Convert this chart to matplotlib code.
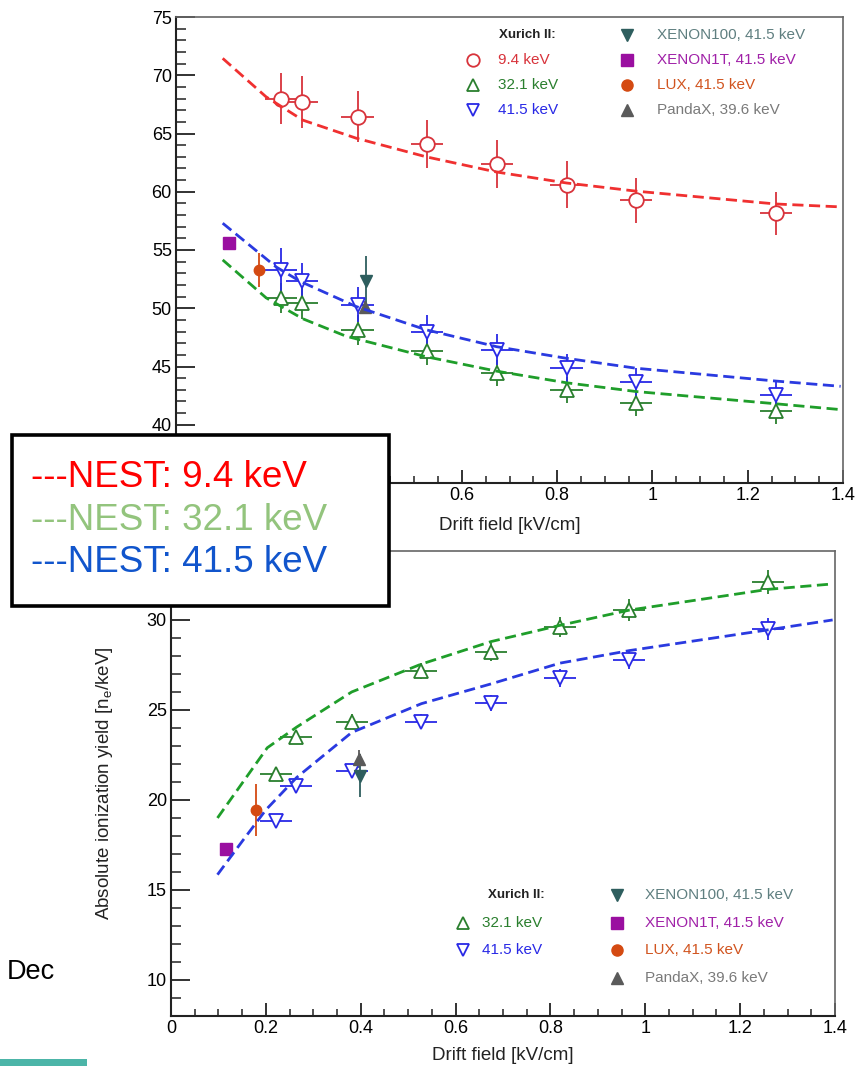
import numpy as np
import matplotlib
matplotlib.use('Agg')
import matplotlib.pyplot as plt
from matplotlib.patches import Rectangle
from matplotlib.ticker import MultipleLocator, FuncFormatter

plt.rcParams['font.family'] = ['Liberation Sans', 'DejaVu Sans']
plt.rcParams['mathtext.fontset'] = 'custom'
plt.rcParams['mathtext.rm'] = 'Liberation Sans'

W, H = 858, 1066

#xurich II drift fields [kV/cm], same for both panels
field = [0.221, 0.264, 0.381, 0.527, 0.674, 0.820, 0.966, 1.259]
field_err = [0.034, 0.034, 0.034, 0.034, 0.034, 0.034, 0.034, 0.034]

#top panel: light yield
ly_94 = [68.0, 67.7, 66.45, 64.1, 62.35, 60.6, 59.25, 58.15]
ly_94_err = [2.2, 2.2, 2.2, 2.1, 2.05, 2.0, 1.9, 1.85]
ly_321 = [50.85, 50.45, 48.15, 46.3, 44.45, 43.0, 41.85, 41.15]
ly_321_err = [1.3, 1.35, 1.3, 1.2, 1.15, 1.1, 1.1, 1.05]
ly_415 = [53.3, 52.3, 50.3, 48.0, 46.45, 44.85, 43.7, 42.55]
ly_415_err = [1.9, 1.6, 1.5, 1.4, 1.3, 1.2, 1.2, 1.1]

#NEST curves
nest_ly_94_x = [0.098, 0.189, 0.266, 0.378, 0.525, 0.672, 0.820, 0.966, 1.259, 1.395]
nest_ly_94 = [71.45, 68.15, 66.15, 64.6, 63.0, 61.7, 60.75, 60.05, 58.95, 58.7]
nest_ly_321_x = [0.098, 0.189, 0.221, 0.266, 0.357, 0.524, 0.673, 0.820, 0.966, 1.259, 1.395]
nest_ly_321 = [54.15, 50.9, 50.15, 49.1, 47.6, 45.85, 44.6, 43.6, 42.85, 41.8, 41.3]
nest_ly_415_x = [0.098, 0.210, 0.261, 0.378, 0.525, 0.673, 0.820, 0.966, 1.259, 1.395]
nest_ly_415 = [57.3, 53.55, 52.3, 50.15, 48.15, 46.7, 45.7, 44.85, 43.75, 43.3]

#top panel: other experiments (x, y, xerr, yerr)
ly_xe100 = (0.398, 52.3, 0.0, 2.2)
ly_xe1t = (0.112, 55.6, 0.0, 0.0)
ly_lux = (0.175, 53.3, 0.012, 1.45)
ly_pandax = (0.396, 50.1, 0.0, 0.5)

#bottom panel: charge yield
qy_321 = [21.45, 23.5, 24.35, 27.15, 28.2, 29.6, 30.55, 32.1]
qy_321_err = [0.4, 0.4, 0.4, 0.45, 0.5, 0.55, 0.6, 0.65]
qy_415 = [18.85, 20.8, 21.6, 24.35, 25.4, 26.8, 27.75, 29.5]
qy_415_err = [0.3, 0.35, 0.35, 0.4, 0.45, 0.5, 0.5, 0.6]

nest_qy_321_x = [0.098, 0.203, 0.265, 0.381, 0.528, 0.675, 0.820, 0.967, 1.259, 1.395]
nest_qy_321 = [19.0, 22.9, 24.05, 26.0, 27.55, 28.8, 29.7, 30.55, 31.7, 32.0]
nest_qy_415_x = [0.098, 0.150, 0.200, 0.265, 0.381, 0.528, 0.675, 0.820, 0.967, 1.259, 1.395]
nest_qy_415 = [15.85, 17.7, 19.45, 21.25, 23.75, 25.35, 26.45, 27.6, 28.3, 29.45, 30.0]

qy_xe100 = (0.399, 21.35, 0.0, 1.2)
qy_xe1t = (0.116, 17.3, 0.0, 0.0)
qy_lux = (0.180, 19.45, 0.012, 1.45)
qy_pandax = (0.396, 22.25, 0.0, 0.5)

#colours
c_red, c_green, c_blue = '#d8333b', '#2a7f2e', '#2929e6'
n_red, n_green, n_blue = '#f03030', '#1f9e2a', '#2a3ae0'
c_xe100, c_xe1t, c_lux, c_pandax = '#2e5e5e', '#9a0fa0', '#d44a12', '#5a5a5a'
t_xe100, t_xe1t, t_lux, t_pandax = '#5f7f80', '#a021a8', '#d1541f', '#7a7a7a'


def px_rect(left, top, right, bottom):
	'''axes rectangle from pixel edges'''
	return [left / W, 1 - bottom / H, (right - left) / W, (bottom - top) / H]


def style_axes(ax, ylim):
	ax.set_xlim(0, 1.4)
	ax.set_ylim(*ylim)
	ax.xaxis.set_major_locator(MultipleLocator(0.2))
	ax.xaxis.set_minor_locator(MultipleLocator(0.05))
	ax.yaxis.set_major_locator(MultipleLocator(5))
	ax.yaxis.set_minor_locator(MultipleLocator(1))
	fmt = FuncFormatter(lambda v, p: '%g' % round(v, 3))
	ax.xaxis.set_major_formatter(fmt)
	ax.yaxis.set_major_formatter(fmt)
	ax.tick_params(which='both', direction='in', top=False, right=False,
					labelsize=13, pad=3, color='#222222')
	ax.tick_params(axis='y', which='major', length=13.5, width=1.3)
	ax.tick_params(axis='y', which='minor', length=7, width=1.1)
	ax.tick_params(axis='x', which='major', length=9.5, width=1.3)
	ax.tick_params(axis='x', which='minor', length=5, width=1.1)
	for s in ['left', 'bottom']:
		ax.spines[s].set_color('#222222')
		ax.spines[s].set_linewidth(1.5)
	for s in ['top', 'right']:
		ax.spines[s].set_color('#666666')
		ax.spines[s].set_linewidth(1.2)
	ax.set_xlabel('Drift field [kV/cm]', fontsize=13.5, color='#222222')


def xurich(ax, y, yerr, color, marker):
	ax.errorbar(field, y, xerr=field_err, yerr=yerr, fmt=marker, ms=10.5,
				mfc='white', mec=color, mew=1.3, ecolor=color,
				elinewidth=1.3, capsize=0, zorder=3)


def other(ax, point, color, marker, ms):
	x, y, xerr, yerr = point
	ax.errorbar([x], [y], xerr=[xerr], yerr=[yerr], fmt=marker, ms=ms,
				color=color, mec=color, ecolor=color, elinewidth=1.3,
				capsize=0, zorder=3)


def nest(ax, x, y, color):
	ax.plot(x, y, color=color, lw=2, ls=(0, (4, 2)), zorder=4)


def legend(ax, head, lx, tx, rx, rtx, left_rows, rows_y):
	'''ROOT style legend: Xurich II column on the left, other experiments on the right'''
	ax.text(head[0], head[1], 'Xurich II:', transform=ax.transAxes, ha='center',
			va='center', fontsize=9.5, fontweight='bold', color='#222222')
	for (marker, color, label), fy in zip(left_rows, rows_y[1:]):
		ax.plot([lx], [fy], marker=marker, ms=9, mfc='white', mec=color, mew=1.3,
				transform=ax.transAxes, clip_on=False)
		ax.text(tx, fy, label, transform=ax.transAxes, va='center',
				fontsize=11, color=color)
	right_rows = [('v', c_xe100, t_xe100, 'XENON100, 41.5 keV'),
				('s', c_xe1t, t_xe1t, 'XENON1T, 41.5 keV'),
				('o', c_lux, t_lux, 'LUX, 41.5 keV'),
				('^', c_pandax, t_pandax, 'PandaX, 39.6 keV')]
	for (marker, mc, tc, label), fy in zip(right_rows, rows_y):
		ax.plot([rx], [fy], marker=marker, ms=8, color=mc, mec=mc,
				transform=ax.transAxes, clip_on=False)
		ax.text(rtx, fy, label, transform=ax.transAxes, va='center',
				fontsize=11, color=tc)


fig = plt.figure(figsize=(W / 100, H / 100), dpi=100)

#### top panel ####
ax1 = fig.add_axes(px_rect(176, 17, 843, 483))
style_axes(ax1, (35, 75))
#the lower left labels sit under the slide's text box, so leave them blank
ax1.xaxis.set_major_formatter(FuncFormatter(lambda v, p: '' if v < 0.5 else '%g' % round(v, 3)))
ax1.yaxis.set_major_formatter(FuncFormatter(lambda v, p: '' if v < 37 else '%g' % round(v, 3)))
ax1.xaxis.set_label_coords(0.5, -0.073)
xurich(ax1, ly_94, ly_94_err, c_red, 'o')
xurich(ax1, ly_321, ly_321_err, c_green, '^')
xurich(ax1, ly_415, ly_415_err, c_blue, 'v')
other(ax1, ly_xe1t, c_xe1t, 's', 8)
other(ax1, ly_lux, c_lux, 'o', 7.5)
other(ax1, ly_pandax, c_pandax, '^', 8)
other(ax1, ly_xe100, c_xe100, 'v', 9)
nest(ax1, nest_ly_94_x, nest_ly_94, n_red)
nest(ax1, nest_ly_321_x, nest_ly_321, n_green)
nest(ax1, nest_ly_415_x, nest_ly_415, n_blue)
legend(ax1, (0.526, 0.961), 0.446, 0.483, 0.676, 0.721,
		[('o', c_red, '9.4 keV'), ('^', c_green, '32.1 keV'), ('v', c_blue, '41.5 keV')],
		[0.961, 0.908, 0.854, 0.800])

#### bottom panel ####
ax2 = fig.add_axes(px_rect(171, 551, 835, 1016))
style_axes(ax2, (8, 33.83))
ax2.xaxis.set_label_coords(0.5, -0.067)
ax2.set_ylabel(r'Absolute ionization yield [n$_{\mathrm{e}}$/keV]', fontsize=13.5,
				color='#222222')
ax2.yaxis.set_label_coords(-0.085, 0.5)
xurich(ax2, qy_321, qy_321_err, c_green, '^')
xurich(ax2, qy_415, qy_415_err, c_blue, 'v')
other(ax2, qy_xe1t, c_xe1t, 's', 8)
other(ax2, qy_lux, c_lux, 'o', 7.5)
other(ax2, qy_pandax, c_pandax, '^', 8)
other(ax2, qy_xe100, c_xe100, 'v', 9)
nest(ax2, nest_qy_321_x, nest_qy_321, n_green)
nest(ax2, nest_qy_415_x, nest_qy_415, n_blue)
legend(ax2, (0.520, 0.260), 0.440, 0.468, 0.671, 0.714,
		[('^', c_green, '32.1 keV'), ('v', c_blue, '41.5 keV')],
		[0.260, 0.200, 0.142, 0.082])

#### slide overlay: NEST legend box, footer ####
fig.add_artist(Rectangle((12 / W, 1 - 606 / H), 377 / W, 171 / H, transform=fig.transFigure,
						facecolor='white', edgecolor='black', lw=2.6, zorder=10))
nest_labels = ['---NEST: 9.4 keV', '---NEST: 32.1 keV', '---NEST: 41.5 keV']
nest_colors = ['#ff0000', '#93c47d', '#1155cc']
for i, (lab, col) in enumerate(zip(nest_labels, nest_colors)):
	fig.text(31 / W, 1 - (477 + 43 * i) / H, lab, color=col, fontsize=26.5,
			va='center', zorder=11)

fig.text(7 / W, 1 - 972 / H, 'Dec', fontsize=19.5, va='center', color='black')
fig.add_artist(Rectangle((0, 0), 87 / W, 7 / H, transform=fig.transFigure,
						facecolor='#4cb5a8', edgecolor='none', zorder=10))

fig.savefig('out.png', dpi=100)
